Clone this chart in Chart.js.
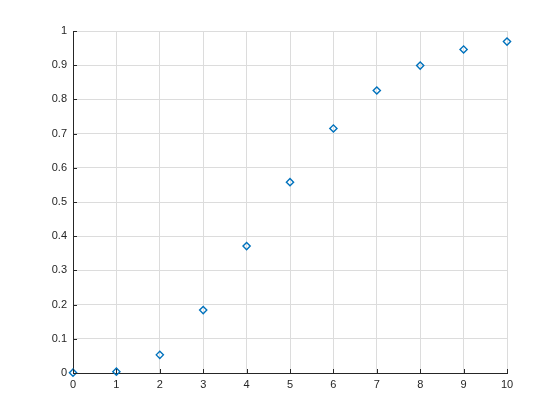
<!DOCTYPE html>
<html>
<head>
<meta charset="utf-8">
<script src="https://cdn.jsdelivr.net/npm/chart.js"></script>
<style>
  html, body { margin: 0; padding: 0; background: #fff; }
  #wrap { width: 560px; height: 420px; }
</style>
</head>
<body>
<div id="wrap"><canvas id="chart"></canvas></div>
<script>
// Daten
let xValues = [0, 1, 2, 3, 4, 5, 6, 7, 8, 9, 10];
let yValues = [0.001, 0.004, 0.053, 0.184, 0.371, 0.558, 0.715, 0.826, 0.899, 0.946, 0.969];
let xTicks = [0, 1, 2, 3, 4, 5, 6, 7, 8, 9, 10];
let yTicks = [0, 0.1, 0.2, 0.3, 0.4, 0.5, 0.6, 0.7, 0.8, 0.9, 1];

const axisColor = '#262626';
const gridColor = '#dcdcdc';

// kleine Striche nach innen, wie bei MATLAB
const innerTicks = {
  id: 'innerTicks',
  afterDraw(chart) {
    const ctx = chart.ctx;
    const xs = chart.scales.x, ys = chart.scales.y;
    const a = chart.chartArea;
    ctx.save();
    ctx.strokeStyle = axisColor;
    ctx.lineWidth = 1;
    ctx.beginPath();
    xTicks.forEach(v => {
      const px = Math.round(xs.getPixelForValue(v)) + 0.5;
      ctx.moveTo(px, a.bottom);
      ctx.lineTo(px, a.bottom - 4);
    });
    yTicks.forEach(v => {
      const py = Math.round(ys.getPixelForValue(v)) + 0.5;
      ctx.moveTo(a.left, py);
      ctx.lineTo(a.left + 4, py);
    });
    ctx.stroke();
    ctx.restore();
  }
};

document.addEventListener('DOMContentLoaded', () => {
  const points = xValues.map((x, i) => ({ x: x, y: yValues[i] }));
  const ctx = document.getElementById('chart').getContext('2d');
  new Chart(ctx, {
    type: 'scatter',
    data: {
      datasets: [{
        data: points,
        clip: false,
        pointStyle: 'rectRot',
        pointRadius: 3.6,
        pointBorderWidth: 1.4,
        borderColor: '#0072BD',
        pointBackgroundColor: 'rgba(0,0,0,0)',
        pointHoverRadius: 3.6
      }]
    },
    options: {
      responsive: true,
      maintainAspectRatio: false,
      animation: false,
      layout: { padding: { top: 31, right: 53, left: 0, bottom: 0 } },
      plugins: { legend: { display: false }, tooltip: { enabled: false } },
      scales: {
        x: {
          type: 'linear',
          min: 0, max: 10,
          afterBuildTicks: s => { s.ticks = xTicks.map(v => ({ value: v })); },
          afterFit: s => { s.height = 47; },
          grid: { color: gridColor, drawTicks: false },
          border: { display: true, color: axisColor, width: 1 },
          ticks: { color: axisColor, font: { family: 'Liberation Sans, Arial', size: 11 }, padding: 5, maxRotation: 0 }
        },
        y: {
          type: 'linear',
          min: 0, max: 1,
          afterBuildTicks: s => { s.ticks = yTicks.map(v => ({ value: v })); },
          afterFit: s => { s.width = 73; },
          grid: { color: gridColor, drawTicks: false },
          border: { display: true, color: axisColor, width: 1 },
          ticks: { color: axisColor, font: { family: 'Liberation Sans, Arial', size: 11 }, padding: 6,
            callback: v => String(Math.round(v * 10) / 10) }
        }
      }
    },
    plugins: [innerTicks]
  });
});
</script>
</body>
</html>
